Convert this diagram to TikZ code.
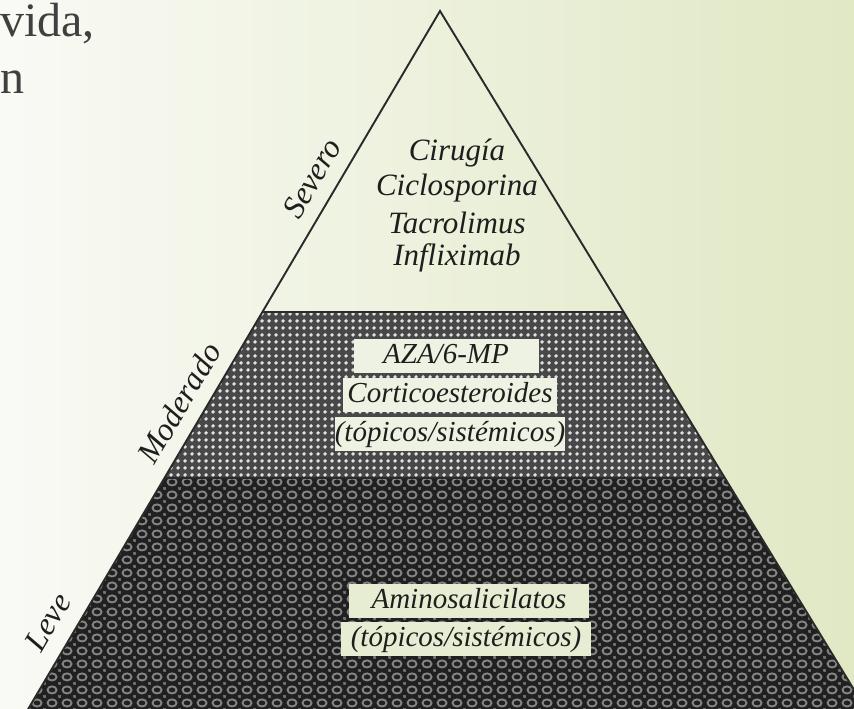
\documentclass[tikz,border=0pt]{standalone}
\usepackage{fontspec}
\setmainfont{Liberation Serif}
\usetikzlibrary{patterns.meta}
\definecolor{bgL}{HTML}{F9FAF5}
\definecolor{bgR}{HTML}{E0E8C4}
\definecolor{txt}{HTML}{1E1E1E}
\definecolor{edgec}{HTML}{2A2A2A}
\definecolor{midbg}{HTML}{484848}
\definecolor{middot}{HTML}{E2E2E2}
\definecolor{lowbg}{HTML}{202020}
\definecolor{lowring}{HTML}{858585}
\definecolor{boxmid}{HTML}{EEF2E2}
\definecolor{boxlow}{HTML}{E7EDD3}
\tikzdeclarepattern{
  name=wdots,
  type=uncolored,
  bounding box={(0pt,0pt) and (7pt,7pt)},
  tile size={(7pt,7pt)},
  code={\fill (3.5pt,3.5pt) circle [radius=2.2pt];}
}
\tikzdeclarepattern{
  name=lattice,
  type=uncolored,
  bounding box={(0pt,0pt) and (15pt,13pt)},
  tile size={(15pt,13pt)},
  code={\draw[line width=2pt] (7.5pt,6.5pt) ellipse [x radius=4.8pt, y radius=3.8pt];
        \fill (0pt,0pt) circle [radius=1.2pt];
        \fill (15pt,0pt) circle [radius=1.2pt];
        \fill (0pt,13pt) circle [radius=1.2pt];
        \fill (15pt,13pt) circle [radius=1.2pt];}
}
\tikzset{
  lbl/.style={font=\fontsize{29}{35}\selectfont\itshape, text=txt, inner sep=0pt},
  toptxt/.style={lbl, font=\fontsize{31}{35}\selectfont\itshape},
  box/.style={lbl, inner xsep=0pt, inner ysep=2pt, text height=22pt, text depth=8pt},
  boxm/.style={box, fill=boxmid},
  boxl/.style={box, fill=boxlow},
  edge/.style={draw=edgec, line width=1.9pt, line join=miter},
  side/.style={lbl, font=\fontsize{32}{36}\selectfont\itshape, rotate=59.5},
  cut/.style={font=\fontsize{48}{54}\selectfont, text=txt!85, inner sep=0pt}
}
\begin{document}
\begin{tikzpicture}[x=1pt,y=-1pt]
\useasboundingbox (0,0) rectangle (854,709);
\begin{scope}
\clip (0,0) rectangle (854,709);
\shade[left color=bgL, right color=bgR] (0,0) rectangle (854,709);
% cut-off text at top left
\node[cut, anchor=base east] (t1) at (95,37) {vida,};
\node[cut, anchor=base east] (t2) at (25,93) {n};
% pyramid geometry
\coordinate (A) at (440,11);
\coordinate (L1) at (262.4,312);
\coordinate (R1) at (623.6,312);
\coordinate (L2) at (164.5,478);
\coordinate (R2) at (724.9,478);
\coordinate (L4) at (15.2,731);
\coordinate (R4) at (879.2,731);
% middle band
\fill[midbg] (L1) -- (R1) -- (R2) -- (L2) -- cycle;
\fill[pattern=wdots, pattern color=middot] (L1) -- (R1) -- (R2) -- (L2) -- cycle;
% lower band
\fill[lowbg] (L2) -- (R2) -- (R4) -- (L4) -- cycle;
\fill[pattern=lattice, pattern color=lowring] (L2) -- (R2) -- (R4) -- (L4) -- cycle;
% outlines
\draw[edge] (L4) -- (A) -- (R4);
\draw[edge] (L1) -- (R1);
\draw[edge] (L2) -- (R2);
% top texts
\node[toptxt] (s1) at (457,153) {Cirugía};
\node[toptxt] (s2) at (457,188) {Ciclosporina};
\node[toptxt] (s3) at (457,223) {Tacrolimus};
\node[toptxt] (s4) at (457,258) {Infliximab};
% middle boxes
\node[boxm, minimum width=185pt] (m1) at (446,356) {AZA/6-MP};
\node[boxm, minimum width=214pt] (m2) at (450,395) {Corticoesteroides};
\node[boxm, minimum width=226pt] (m3) at (450,434) {(tópicos/sistémicos)};
% lower boxes
\node[boxl, minimum width=240pt] (l1) at (469,601) {Aminosalicilatos};
\node[boxl, minimum width=250pt] (l2) at (466,639) {(tópicos/sistémicos)};
% side labels
\node[side] (sv) at (312,178) {Severo};
\node[side] (md) at (179,403) {Moderado};
\node[side] (lv) at (48,622) {Leve};
\end{scope}
\end{tikzpicture}
\end{document}
